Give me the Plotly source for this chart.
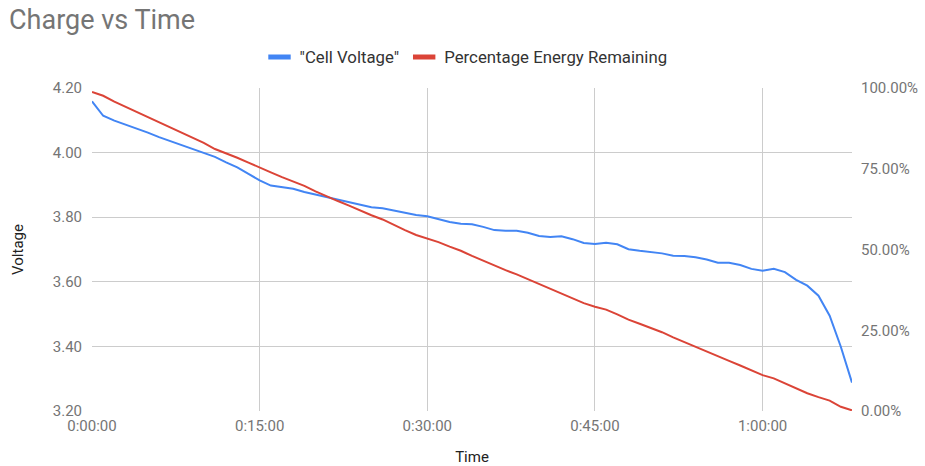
import plotly.graph_objects as go

# ---- data (time in minutes) ----
minutes = list(range(0, 69))
cell_voltage = [
    4.159, 4.114, 4.099, 4.087, 4.074, 4.062, 4.048, 4.036, 4.024, 4.012,
    4.000, 3.987, 3.970, 3.954, 3.934, 3.914, 3.898, 3.892, 3.888, 3.878,
    3.870, 3.863, 3.855, 3.846, 3.837, 3.831, 3.828, 3.821, 3.813, 3.807,
    3.803, 3.794, 3.785, 3.780, 3.778, 3.770, 3.760, 3.758, 3.758, 3.752,
    3.742, 3.739, 3.741, 3.732, 3.720, 3.717, 3.721, 3.716, 3.701, 3.696,
    3.692, 3.688, 3.681, 3.680, 3.676, 3.669, 3.659, 3.659, 3.652, 3.640,
    3.634, 3.640, 3.630, 3.606, 3.588, 3.557, 3.495, 3.399, 3.288,
]
energy_pct = [
    98.8, 97.6, 95.8, 94.2, 92.6, 91.0, 89.4, 87.8, 86.2, 84.6,
    83.0, 81.1, 79.8, 78.4, 76.9, 75.3, 73.9, 72.4, 71.1, 69.7,
    68.0, 66.4, 65.0, 63.6, 62.0, 60.6, 59.3, 57.6, 56.0, 54.5,
    53.5, 52.3, 50.9, 49.6, 48.0, 46.5, 45.0, 43.6, 42.3, 40.8,
    39.4, 37.8, 36.3, 34.8, 33.4, 32.3, 31.4, 29.9, 28.3, 27.0,
    25.8, 24.4, 22.8, 21.3, 19.9, 18.4, 16.9, 15.5, 14.1, 12.7,
    11.1, 10.1, 8.5, 7.1, 5.5, 4.3, 3.2, 1.3, 0.2,
]
x_tick_vals = [0, 15, 30, 45, 60]
x_tick_text = ["0:00:00", "0:15:00", "0:30:00", "0:45:00", "1:00:00"]
v_ticks = [3.2, 3.4, 3.6, 3.8, 4.0, 4.2]
v_tick_text = ["3.20", "3.40", "3.60", "3.80", "4.00", "4.20"]
pct_ticks = [0, 25, 50, 75, 100]
pct_tick_text = ["0.00%", "25.00%", "50.00%", "75.00%", "100.00%"]

series_names = ['"Cell Voltage"', "Percentage Energy Remaining"]
colors = ["#4285F4", "#DB4437"]

FONT = "Roboto"
TICK_COLOR = "#757575"

fig = go.Figure()
fig.add_trace(go.Scatter(x=minutes, y=cell_voltage, mode="lines",
                         line=dict(color=colors[0], width=2),
                         name=series_names[0], showlegend=False, yaxis="y"))
fig.add_trace(go.Scatter(x=minutes, y=energy_pct, mode="lines",
                         line=dict(color=colors[1], width=2),
                         name=series_names[1], showlegend=False, yaxis="y2"))
# legend entries (short thick bars like the original)
for nm, c in zip(series_names, colors):
    fig.add_trace(go.Scatter(x=[None], y=[None], mode="markers", name=nm,
                             marker=dict(symbol="line-ew", size=18,
                                         line=dict(color=c, width=5))))

fig.update_layout(
    width=925, height=466,
    margin=dict(l=92, r=73, t=88, b=55, autoexpand=False),
    paper_bgcolor="white", plot_bgcolor="white",
    font=dict(family=FONT, size=15, color="#444"),
    title=dict(text="Charge vs Time", font=dict(family=FONT, size=27, color="#757575"),
               xref="container", x=9 / 925, xanchor="left",
               yref="container", y=1 - 20 / 466, yanchor="middle"),
    legend=dict(orientation="h", xref="container", x=466 / 925, xanchor="center",
                yref="container", y=1 - 57 / 466, yanchor="middle",
                font=dict(family=FONT, size=16.8, color="#333"),
                itemwidth=30, bgcolor="rgba(0,0,0,0)"),
    xaxis=dict(range=[0, 68], tickvals=x_tick_vals, ticktext=x_tick_text,
               showgrid=True, gridcolor="#cccccc", gridwidth=1,
               zeroline=False, showline=False, ticks="", automargin=False,
               ticklabelstandoff=4,
               tickfont=dict(family=FONT, size=15, color=TICK_COLOR),
               title=dict(text="Time", font=dict(family=FONT, size=15, color="#222"),
                          standoff=21)),
    yaxis=dict(range=[3.2, 4.2], tickvals=v_ticks, ticktext=v_tick_text,
               showgrid=True, gridcolor="#cccccc", gridwidth=1,
               zeroline=False, showline=False, ticks="", automargin=False,
               ticklabelstandoff=9,
               tickfont=dict(family=FONT, size=15, color=TICK_COLOR),
               title=dict(text="Voltage", font=dict(family=FONT, size=15, color="#222"),
                          standoff=25)),
    yaxis2=dict(range=[0, 100], tickvals=pct_ticks, ticktext=pct_tick_text,
                overlaying="y", side="right", showgrid=False, zeroline=False,
                showline=False, ticks="", ticklabelstandoff=8, automargin=False,
                tickfont=dict(family=FONT, size=15, color=TICK_COLOR)),
)

fig.write_html("out.html")
